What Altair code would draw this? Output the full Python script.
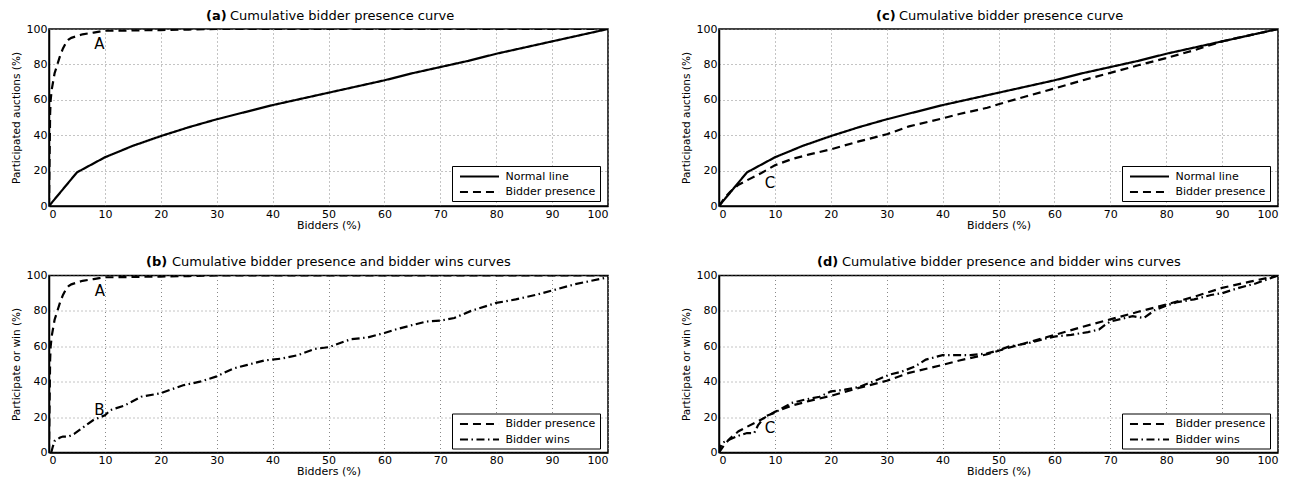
import altair as alt
import pandas as pd

FONT = "DejaVu Sans"

# ---- data ----
normal_x = [0, 5, 10, 15, 20, 25, 30, 35, 40, 45, 50, 55, 60, 65, 70, 75, 80, 85, 90, 95, 100]
normal_y = [0, 19, 27.5, 34, 39.5, 44.5, 49, 53, 57, 60.5, 64, 67.5, 71, 75, 78.5, 82, 86, 89.5, 93, 96.5, 100]

presA_x = [0, 0.2, 0.3, 0.5, 1, 1.5, 2, 2.5, 3, 3.5, 4, 5, 6, 7, 8, 9, 10, 12, 15, 20, 25, 30, 100]
presA_y = [0, 52, 60, 66, 75, 80, 85, 89, 92, 94, 95, 96, 97, 97.5, 98, 98.5, 99, 99, 99.2, 99.4, 99.7, 100, 100]

winsB_x = [0.4, 0.7, 1, 2, 2.5, 3.5, 4.5, 6, 8, 10, 11, 13.5, 16.5, 20, 24, 27, 30, 33, 35.5, 38.5,
           41.5, 44.5, 47.5, 50, 54, 57, 60, 62, 65, 67.5, 70, 72.5, 75.5, 80, 83.5, 87, 90, 94, 97, 100]
winsB_y = [0, 3.5, 6.5, 8.5, 9, 9, 10.5, 14, 18.5, 21, 24, 26.5, 31.5, 33.5, 38, 40, 43, 47.5, 49.5, 52,
           53, 55, 58.5, 59.5, 64, 65, 67.5, 69.5, 72, 74, 74.5, 76, 80, 84.5, 86.5, 89, 91.5, 95, 97, 99]

presC_x = [0, 1, 2, 3.5, 5, 7.5, 10, 13, 16, 20, 25, 30, 34, 40, 43, 48, 50, 55, 60, 65, 70, 75, 80, 85, 90, 95, 100]
presC_y = [0, 4.5, 8, 12, 14.5, 18.5, 23, 26.5, 29, 32, 36.5, 40.5, 45, 49.5, 52, 55.5, 57.5, 62, 66.4, 71, 75.2, 79.5, 83.6, 88, 93, 96.5, 100]

winsD_x = [0, 0.1, 0.6, 2, 3.5, 5, 6.3, 7, 8.3, 10, 11.3, 13, 15.5, 18, 20, 22.5, 25, 27.5, 30.5, 32.5, 35, 37,
           40, 43, 45, 48, 50, 52, 55, 58, 60, 63, 66, 68, 69, 70, 72, 74, 76, 78, 80, 82, 85, 88, 90, 93, 96, 100]
winsD_y = [0, 2, 5.5, 7.5, 9.5, 11, 11, 15.5, 20.5, 22.5, 25, 28, 30, 31.5, 34.5, 35.5, 37, 40, 44, 45.5, 48.5, 52.5,
           55, 55, 55, 56, 57.7, 60, 61.5, 64, 65.5, 66.5, 68, 69.5, 72, 74, 75.5, 77, 76, 80.5, 83, 85, 86.5, 89, 90, 93, 95.5, 100]

x_ticks = [0, 10, 20, 30, 40, 50, 60, 70, 80, 90, 100]
y_ticks = [0, 20, 40, 60, 80, 100]

SOLID = [1, 0]
DASH = [8, 5]
DASHDOT = [8, 3.5, 1.5, 3.5]

W, H = 559, 177


def panel(series, dashes, ytitle, letters, bold, rest, bold_x, rest_x, leg_x, leg_y):
    df = pd.concat([pd.DataFrame({"x": xs, "y": ys, "series": name}) for name, xs, ys in series])
    x_enc = alt.X("x:Q", scale=alt.Scale(domain=[0, 100], nice=False),
                  axis=alt.Axis(values=x_ticks, title="Bidders (%)"))
    y_enc = alt.Y("y:Q", scale=alt.Scale(domain=[0, 100], nice=False),
                  axis=alt.Axis(values=y_ticks, title=ytitle))
    names = [s[0] for s in series]
    lines = alt.Chart(df).mark_line(color="black", strokeWidth=2.2, clip=True).encode(
        x=x_enc, y=y_enc,
        strokeDash=alt.StrokeDash(
            "series:N",
            scale=alt.Scale(domain=names, range=dashes),
            legend=alt.Legend(title=None, orient="none", legendX=leg_x, legendY=leg_y,
                              symbolType="M-3.55,0H3.55", symbolSize=121, symbolOffset=17,
                              labelOffset=19.5, symbolStrokeWidth=2, symbolStrokeColor="black",
                              fillColor="white", strokeColor="black", padding=4, rowPadding=3.5,
                              labelFont=FONT, labelFontSize=11, labelColor="black"),
        ),
    )
    ann = alt.Chart(pd.DataFrame(letters)).mark_text(font=FONT, fontSize=15, color="black").encode(
        x=x_enc, y=y_enc, text="t:N")
    tb = alt.Chart(pd.DataFrame({"t": [bold]})).mark_text(
        font=FONT, fontSize=13, fontWeight="bold", align="left", baseline="alphabetic", color="black"
    ).encode(x=alt.value(bold_x), y=alt.value(-9.5), text="t:N")
    tr = alt.Chart(pd.DataFrame({"t": [rest]})).mark_text(
        font=FONT, fontSize=13, align="left", baseline="alphabetic", color="black"
    ).encode(x=alt.value(rest_x), y=alt.value(-9.5), text="t:N")
    return alt.layer(lines, ann, tb, tr).properties(width=W, height=H)


pa = panel([("Normal line", normal_x, normal_y), ("Bidder presence", presA_x, presA_y)],
           [SOLID, DASH], "Participated auctions (%)",
           {"x": [9], "y": [91.5], "t": ["A"]},
           "(a)", "Cumulative bidder presence curve", 157, 181, 403, 137)
pc = panel([("Normal line", normal_x, normal_y), ("Bidder presence", presC_x, presC_y)],
           [SOLID, DASH], "Participated auctions (%)",
           {"x": [9.1], "y": [13], "t": ["C"]},
           "(c)", "Cumulative bidder presence curve", 157, 180, 403, 137)
pb = panel([("Bidder presence", presA_x, presA_y), ("Bidder wins", winsB_x, winsB_y)],
           [DASH, DASHDOT], "Participate or win (%)",
           {"x": [9.1, 9], "y": [91, 24], "t": ["A", "B"]},
           "(b)", "Cumulative bidder presence and bidder wins curves", 97, 123, 403, 138)
pd_ = panel([("Bidder presence", presC_x, presC_y), ("Bidder wins", winsD_x, winsD_y)],
            [DASH, DASHDOT], "Participate or win (%)",
            {"x": [9.1], "y": [13.6], "t": ["C"]},
            "(d)", "Cumulative bidder presence and bidder wins curves", 98, 123, 403, 138)

chart = alt.concat(pa, pc, pb, pd_, columns=2, spacing={"row": 23.5, "column": 71}).resolve_scale(
    strokeDash="independent"
).resolve_legend(strokeDash="independent").configure(
    font=FONT, padding={"left": 2, "top": 0, "right": 0, "bottom": 2}
).configure_view(stroke="black", strokeWidth=1.5).configure_axis(
    domainColor="black", domainWidth=1.5, gridColor="#888", gridDash=[1, 3], gridWidth=1, gridOpacity=1,
    ticks=False, labelFont=FONT, labelFontSize=11, labelColor="black", labelPadding=2,
    titleFont=FONT, titleFontSize=11, titleFontWeight="normal", titleColor="black", titlePadding=0
).configure_axisY(titleFontSize=10.5, titlePadding=5)

chart.save("out.html", embed_options={"renderer": "svg", "actions": False})
